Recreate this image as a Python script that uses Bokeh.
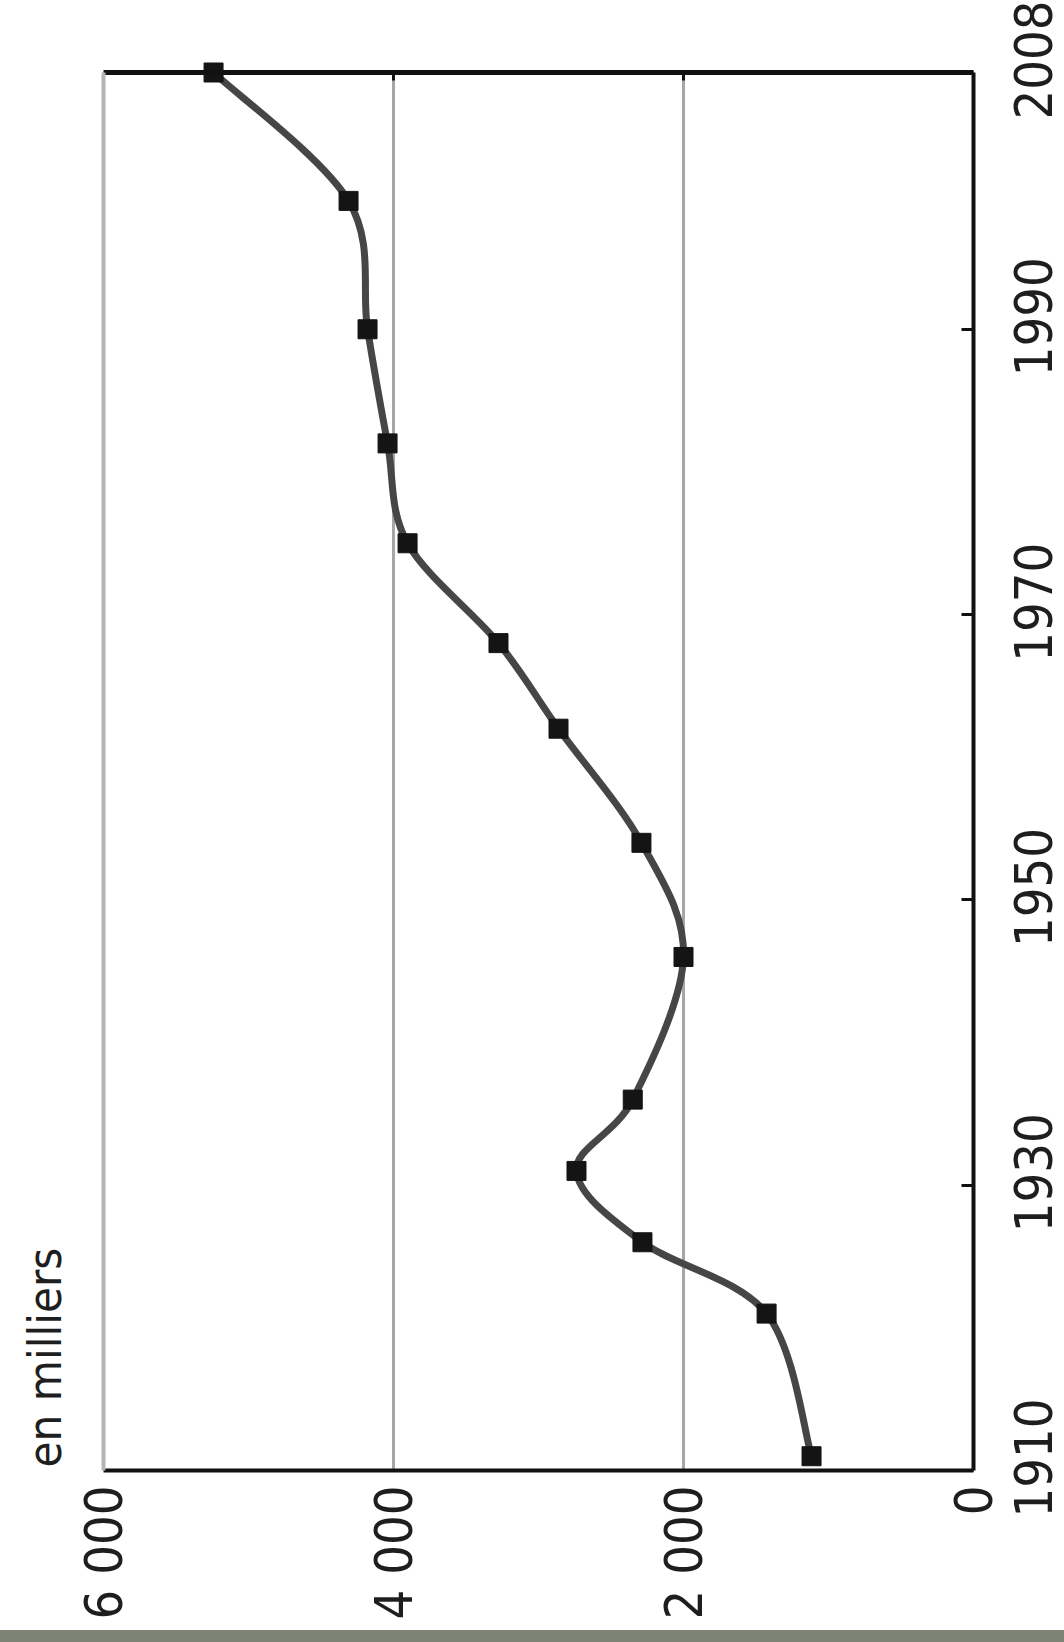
import math
from bokeh.plotting import figure
from bokeh.models import LinearAxis, FixedTicker, Range1d, Label, Div, Grid
from bokeh.layouts import column
from bokeh.embed import file_html
from bokeh.resources import INLINE

# ---- data ----
years = [1911, 1921, 1926, 1931, 1936, 1946, 1954, 1962, 1968, 1975, 1982, 1990, 1999, 2008]
values = [1117, 1427, 2283, 2738, 2350, 2000, 2290, 2862, 3276, 3903, 4041, 4179, 4310, 5241]
value_ticks = [0, 2000, 4000, 6000]
value_tick_labels = ["0", "2 000", "4 000", "6 000"]
grid_ticks = [2000, 4000]
year_ticks = [1910, 1930, 1950, 1970, 1990, 2008]
unit_label = "en milliers"

FONT = "DejaVu Sans Condensed"
TXT = "#1e1e1e"
FS = "52px"

# ---- layout (pixels) ----
W, H = 1064, 1630
BL, BR, BT, BB = 103, 973, 72, 1470          # plot box edges
V_LO, V_HI = value_ticks[0], value_ticks[-1]
Y_LO, Y_HI = year_ticks[0], year_ticks[-1]
ux = (V_HI - V_LO) / (BR - BL)                 # value units per pixel
uy = (Y_HI - Y_LO) / (BB - BT)                 # years per pixel
x_range = Range1d(V_HI + BL * ux, V_LO - (W - BR) * ux)   # reversed: 6000 left, 0 right
y_range = Range1d(Y_LO - (H - BB) * uy, Y_HI + BT * uy)

p = figure(width=W, height=H, x_range=x_range, y_range=y_range,
           output_backend="svg", toolbar_location=None,
           x_axis_location=None, y_axis_location=None,
           min_border_left=0, min_border_right=0, min_border_top=0, min_border_bottom=0)
p.outline_line_color = None
p.background_fill_color = "white"
p.border_fill_color = "white"
p.grid.visible = False

# grid lines, limited to the plot box
g = Grid(dimension=0, ticker=FixedTicker(ticks=grid_ticks), cross_bounds=(Y_LO, Y_HI),
         grid_line_color="#a6a6a6", grid_line_width=3)
p.add_layout(g, "center")

# bottom (value) axis on the 1910 line
xa = LinearAxis(fixed_location=Y_LO, bounds=(V_LO, V_HI), ticker=FixedTicker(ticks=value_ticks))
xa.major_label_overrides = {v: s for v, s in zip(value_ticks, value_tick_labels)}
xa.major_label_orientation = math.pi / 2
xa.major_label_text_font = FONT
xa.major_label_text_font_size = FS
xa.major_label_text_color = TXT
xa.major_label_standoff = 15
xa.major_tick_in = 0
xa.major_tick_out = 0
xa.minor_tick_line_color = None
xa.axis_line_color = "#111111"
xa.axis_line_width = 4
p.add_layout(xa, "below")

# top border with small inward ticks
ta = LinearAxis(fixed_location=Y_HI, bounds=(V_LO, V_HI), ticker=FixedTicker(ticks=grid_ticks))
ta.major_label_text_color = None
ta.major_label_text_font_size = "1px"
ta.major_tick_in = 8
ta.major_tick_out = 0
ta.major_tick_line_width = 3
ta.major_tick_line_color = "#111111"
ta.minor_tick_line_color = None
ta.axis_line_color = "#111111"
ta.axis_line_width = 5
p.add_layout(ta, "above")

# right border (year axis line) with inward ticks
ya = LinearAxis(fixed_location=V_LO, bounds=(Y_LO, Y_HI), ticker=FixedTicker(ticks=year_ticks))
ya.major_label_text_color = None
ya.major_label_text_font_size = "1px"
ya.major_tick_in = 12
ya.major_tick_out = 0
ya.major_tick_line_width = 3
ya.major_tick_line_color = "#111111"
ya.minor_tick_line_color = None
ya.axis_line_color = "#111111"
ya.axis_line_width = 4
p.add_layout(ya, "right")

# year labels, centred on their ticks (labels start at their tick, so shift the range)
half = 3.3
p.extra_y_ranges = {"lab": Range1d(y_range.start + half, y_range.end + half)}
yl = LinearAxis(y_range_name="lab", fixed_location=V_LO, ticker=FixedTicker(ticks=year_ticks))
yl.major_label_orientation = math.pi / 2
yl.major_label_text_font = FONT
yl.major_label_text_font_size = FS
yl.major_label_text_color = TXT
yl.major_label_standoff = 60
yl.major_tick_in = 0
yl.major_tick_out = 0
yl.minor_tick_line_color = None
yl.axis_line_color = None
p.add_layout(yl, "right")

# left border (grey)
la = LinearAxis(fixed_location=V_HI, bounds=(Y_LO, Y_HI), ticker=FixedTicker(ticks=[]))
la.major_tick_in = 0
la.major_tick_out = 0
la.minor_tick_line_color = None
la.axis_line_color = "#b4b4b4"
la.axis_line_width = 4
p.add_layout(la, "left")

# unit label
p.add_layout(Label(x=V_HI + (BL - 44) * ux, y=Y_LO + 3 * uy, text=unit_label,
                   angle=math.pi / 2, text_align="left", text_baseline="alphabetic",
                   text_font=FONT, text_font_size="47px", text_color=TXT))

# smooth curve through the points (Catmull-Rom -> cubic Bezier)
n = len(years)
x0, y0, x1, y1, cx0, cy0, cx1, cy1 = [], [], [], [], [], [], [], []
for i in range(n - 1):
    a = max(i - 1, 0)
    b = min(i + 2, n - 1)
    x0.append(values[i]); y0.append(years[i])
    x1.append(values[i + 1]); y1.append(years[i + 1])
    cx0.append(values[i] + (values[i + 1] - values[a]) / 6.0)
    cy0.append(years[i] + (years[i + 1] - years[a]) / 6.0)
    cx1.append(values[i + 1] - (values[b] - values[i]) / 6.0)
    cy1.append(years[i + 1] - (years[b] - years[i]) / 6.0)
p.bezier(x0=x0, y0=y0, x1=x1, y1=y1, cx0=cx0, cy0=cy0, cx1=cx1, cy1=cy1,
         line_color="#464646", line_width=7, line_cap="round")

p.scatter(values, years, marker="square", size=19, color="#141414")

band = Div(text="", width=W, height=12,
           styles={"background-color": "#7e8474", "margin": "0", "padding": "0"})

layout = column(p, band, spacing=0)
open("out.html", "w").write(file_html(layout, INLINE))
